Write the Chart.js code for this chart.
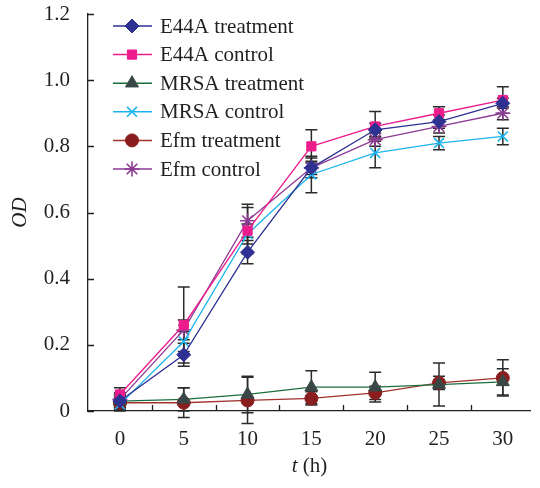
<!DOCTYPE html>
<html>
<head>
<meta charset="utf-8">
<script src="https://cdn.jsdelivr.net/npm/chart.js@4.4.1/dist/chart.umd.min.js"></script>
<style>
  html, body { margin: 0; padding: 0; background: #fff; }
  #wrap { width: 540px; height: 488px; }
</style>
</head>
<body>
<div id="wrap"><canvas id="myChart" width="540" height="488"></canvas></div>
<script>
const hours = [0, 5, 10, 15, 20, 25, 30];
const xTicks = [0, 5, 10, 15, 20, 25, 30];
const yTicks = [0, 0.2, 0.4, 0.6, 0.8, 1.0, 1.2];

const e44aTreatment = [0.03, 0.17, 0.48, 0.735, 0.85, 0.875, 0.93];
const e44aTreatmentErr = [0.02, 0.035, 0.035, 0.02, 0.02, 0.02, 0.015];
const e44aControl = [0.05, 0.26, 0.545, 0.80, 0.86, 0.90, 0.94];
const e44aControlErr = [0.02, 0.115, 0.07, 0.05, 0.045, 0.02, 0.04];
const mrsaTreatment = [0.03, 0.035, 0.05, 0.072, 0.072, 0.08, 0.088];
const mrsaTreatmentErr = [0.02, 0.035, 0.055, 0.05, 0.045, 0.065, 0.04];
const mrsaControl = [0.02, 0.21, 0.535, 0.715, 0.78, 0.81, 0.83];
const mrsaControlErr = [0.02, 0.03, 0.03, 0.055, 0.045, 0.02, 0.025];
const efmTreatment = [0.025, 0.025, 0.032, 0.038, 0.055, 0.085, 0.10];
const efmTreatmentErr = [0.02, 0.045, 0.07, 0.02, 0.02, 0.02, 0.055];
const efmControl = [0.035, 0.245, 0.575, 0.735, 0.82, 0.86, 0.90];
const efmControlErr = [0.02, 0.03, 0.05, 0.03, 0.02, 0.02, 0.02];

const serif = '"Liberation Serif", "Times New Roman", Times, serif';

function pts(vals) {
  return vals.map((v, i) => ({ x: hours[i], y: v }));
}

function series(label, vals, errs, line, marker, style, radius) {
  return {
    label: label,
    data: pts(vals),
    errs: errs,
    borderColor: line,
    backgroundColor: marker,
    pointBackgroundColor: marker,
    pointBorderColor: marker,
    pointStyle: style,
    pointRadius: radius,
    pointBorderWidth: (style === 'crossRot' || style === 'star') ? 1.6 : 1,
    borderWidth: 1.3,
    tension: 0
  };
}

const datasets = [
  series('E44A treatment', e44aTreatment, e44aTreatmentErr, '#2e3192', '#2e3192', 'rectRot', 7),
  series('E44A control', e44aControl, e44aControlErr, '#ec1c8c', '#ec1c8c', 'rect', 6.5),
  series('MRSA treatment', mrsaTreatment, mrsaTreatmentErr, '#1b6e3e', '#3a4747', 'triangle', 7.5),
  series('MRSA control', mrsaControl, mrsaControlErr, '#1cb4ee', '#1cb4ee', 'crossRot', 7),
  series('Efm treatment', efmTreatment, efmTreatmentErr, '#a2312b', '#8a1e1e', 'circle', 6.5),
  series('Efm control', efmControl, efmControlErr, '#8d3a95', '#8d3a95', 'star', 7.5)
];

// error bars under the markers
const errorBars = {
  id: 'errorBars',
  beforeDatasetsDraw(chart) {
    const ctx = chart.ctx;
    const xs = chart.scales.x, ys = chart.scales.y;
    ctx.save();
    ctx.strokeStyle = '#2b2b2b';
    ctx.lineWidth = 1.5;
    chart.data.datasets.forEach(ds => {
      ds.data.forEach((p, i) => {
        const e = ds.errs[i];
        const px = xs.getPixelForValue(p.x);
        const top = ys.getPixelForValue(p.y + e);
        const bot = ys.getPixelForValue(p.y - e);
        ctx.beginPath();
        ctx.moveTo(px, top); ctx.lineTo(px, bot);
        ctx.moveTo(px - 6, top); ctx.lineTo(px + 6, top);
        ctx.moveTo(px - 6, bot); ctx.lineTo(px + 6, bot);
        ctx.stroke();
      });
    });
    ctx.restore();
  }
};

// inward tick marks, x title, legend
const decor = {
  id: 'decor',
  afterDraw(chart) {
    const ctx = chart.ctx;
    const xs = chart.scales.x, ys = chart.scales.y;
    const a = chart.chartArea;
    ctx.save();
    ctx.strokeStyle = '#231f20';
    ctx.lineWidth = 1.3;
    ctx.beginPath();
    yTicks.forEach(v => {
      const py = Math.round(ys.getPixelForValue(v)) + 0.5;
      ctx.moveTo(a.left, py); ctx.lineTo(a.left + 6, py);
    });
    for (let v = 2.5; v < xs.max; v += 5) {
      const px = Math.round(xs.getPixelForValue(v)) + 0.5;
      ctx.moveTo(px, a.bottom); ctx.lineTo(px, a.bottom - 6);
    }
    ctx.stroke();

    // x axis title: italic t + (h)
    ctx.fillStyle = '#231f20';
    ctx.textBaseline = 'middle';
    ctx.textAlign = 'left';
    const cx = (a.left + a.right) / 2;
    ctx.font = 'italic 21px ' + serif;
    const w1 = ctx.measureText('t').width;
    ctx.font = '21px ' + serif;
    const w2 = ctx.measureText(' (h)').width;
    let sx = cx - (w1 + w2) / 2;
    ctx.font = 'italic 21px ' + serif;
    ctx.fillText('t', sx, 466);
    ctx.font = '21px ' + serif;
    ctx.fillText(' (h)', sx + w1, 466);

    // legend
    chart.data.datasets.forEach((ds, i) => {
      const y = 26 + i * 28.6;
      ctx.strokeStyle = ds.borderColor;
      ctx.lineWidth = 1.5;
      ctx.beginPath();
      ctx.moveTo(113, y); ctx.lineTo(152, y);
      ctx.stroke();
      ctx.fillStyle = ds.pointBackgroundColor;
      ctx.strokeStyle = ds.pointBorderColor;
      ctx.lineWidth = ds.pointBorderWidth;
      Chart.helpers.drawPoint(ctx, {
        pointStyle: ds.pointStyle, radius: ds.pointRadius, rotation: 0, borderWidth: ds.pointBorderWidth
      }, 132, y);
      ctx.fillStyle = '#231f20';
      ctx.font = '21px ' + serif;
      ctx.fillText(ds.label, 160, y + 1);
    });
    ctx.restore();
  }
};

function draw() {
  new Chart(document.getElementById('myChart'), {
    type: 'line',
    data: { datasets: datasets },
    plugins: [errorBars, decor],
    options: {
      responsive: false,
      animation: false,
      layout: { padding: { top: 14, right: 0, left: 0, bottom: 0 } },
      plugins: { legend: { display: false }, tooltip: { enabled: false } },
      scales: {
        x: {
          type: 'linear',
          min: -2.5,
          max: 32.2,
          afterBuildTicks: s => { s.ticks = xTicks.map(v => ({ value: v })); },
          afterFit: s => { s.height = 77; s.paddingLeft = 0; s.paddingRight = 0; },
          grid: { display: false, drawTicks: false },
          border: { display: true, color: '#231f20', width: 1.3 },
          ticks: {
            padding: 16,
            color: '#231f20',
            font: { family: serif, size: 21 },
            maxRotation: 0
          }
        },
        y: {
          min: 0,
          max: 1.2,
          afterBuildTicks: s => { s.ticks = yTicks.map(v => ({ value: v })); },
          afterFit: s => { s.width = 88; s.paddingTop = 0; s.paddingBottom = 0; },
          grid: { display: false, drawTicks: false },
          border: { display: true, color: '#231f20', width: 1.3 },
          title: {
            display: true,
            text: 'OD',
            color: '#231f20',
            font: { family: serif, size: 21, style: 'italic' },
            padding: { top: 8, bottom: 0 }
          },
          ticks: {
            padding: 18,
            color: '#231f20',
            font: { family: serif, size: 21 },
            callback: v => v === 0 ? '0' : v.toFixed(1)
          }
        }
      }
    }
  });
}

Promise.all([
  document.fonts.load('21px "Liberation Serif"'),
  document.fonts.load('italic 21px "Liberation Serif"')
]).then(draw, draw);
</script>
</body>
</html>
